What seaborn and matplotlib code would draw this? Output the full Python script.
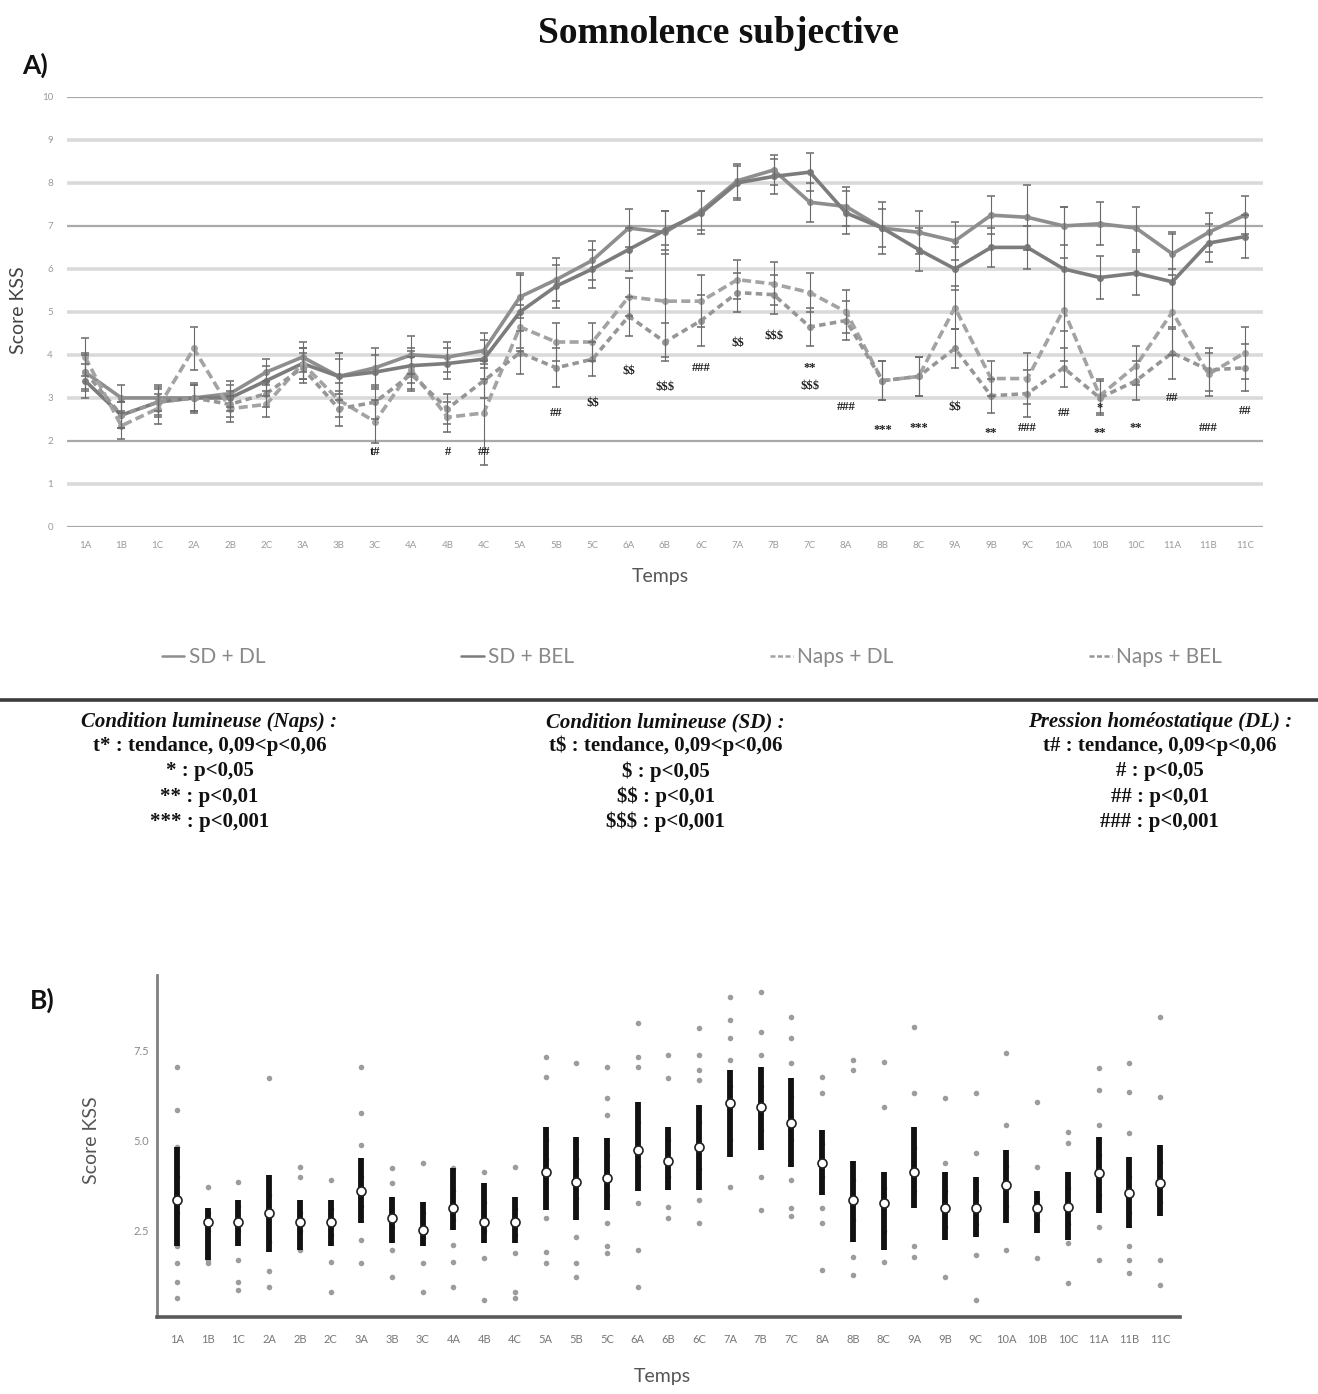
#!/usr/bin/env python3
"""
Somnolence subjective (KSS) - panneaux A et B
Sortie: out.png
"""
import numpy as np
import pandas as pd
import matplotlib
matplotlib.use("Agg")
import matplotlib.pyplot as plt
from matplotlib.lines import Line2D
import seaborn as sns

# --------------------------
# DONNEES
# --------------------------
times = ["1A", "1B", "1C", "2A", "2B", "2C", "3A", "3B", "3C", "4A", "4B", "4C",
         "5A", "5B", "5C", "6A", "6B", "6C", "7A", "7B", "7C", "8A", "8B", "8C",
         "9A", "9B", "9C", "10A", "10B", "10C", "11A", "11B", "11C"]

conditions = ["SD + DL", "SD + BEL", "Naps + DL", "Naps + BEL"]

# Panneau A : moyennes par condition
sd_dl = [3.6, 3.0, 3.0, 3.0, 3.1, 3.6, 3.95, 3.5, 3.7, 4.0, 3.95, 4.1,
         5.35, 5.75, 6.2, 6.95, 6.85, 7.35, 8.05, 8.3, 7.55, 7.45, 6.95, 6.85,
         6.65, 7.25, 7.2, 7.0, 7.05, 6.95, 6.35, 6.85, 7.25]
sd_bel = [3.4, 2.6, 2.9, 3.0, 3.0, 3.4, 3.8, 3.5, 3.6, 3.75, 3.8, 3.9,
          5.0, 5.6, 6.0, 6.45, 6.9, 7.3, 8.0, 8.15, 8.25, 7.3, 6.95, 6.45,
          6.0, 6.5, 6.5, 6.0, 5.8, 5.9, 5.7, 6.6, 6.75]
naps_dl = [3.95, 2.35, 2.75, 4.15, 2.75, 2.85, 3.8, 2.95, 2.45, 3.65, 2.55, 2.65,
           4.65, 4.3, 4.3, 5.35, 5.25, 5.25, 5.75, 5.65, 5.45, 5.0, 3.4, 3.5,
           5.1, 3.45, 3.45, 5.05, 3.05, 3.75, 5.0, 3.55, 4.05]
naps_bel = [3.6, 2.6, 2.9, 3.0, 2.85, 3.1, 3.7, 2.75, 2.9, 3.55, 2.75, 3.4,
            4.05, 3.7, 3.9, 4.9, 4.3, 4.8, 5.45, 5.4, 4.65, 4.8, 3.4, 3.5,
            4.15, 3.05, 3.1, 3.7, 3.0, 3.4, 4.05, 3.65, 3.7]

# erreurs standard
sd_dl_err = [0.45, 0.3, 0.3, 0.3, 0.3, 0.3, 0.35, 0.55, 0.45, 0.45, 0.35, 0.4,
             0.5, 0.5, 0.45, 0.45, 0.5, 0.45, 0.4, 0.35, 0.45, 0.45, 0.6, 0.5,
             0.45, 0.45, 0.75, 0.45, 0.5, 0.5, 0.5, 0.45, 0.45]
sd_bel_err = [0.4, 0.3, 0.35, 0.3, 0.3, 0.35, 0.35, 0.4, 0.4, 0.4, 0.35, 0.45,
              0.9, 0.5, 0.45, 0.5, 0.45, 0.5, 0.4, 0.4, 0.45, 0.5, 0.45, 0.5,
              0.5, 0.45, 0.5, 1.45, 0.5, 0.5, 1.1, 0.45, 0.5]
naps_dl_err = [0.45, 0.3, 0.35, 0.5, 0.3, 0.3, 0.35, 0.4, 0.5, 0.45, 0.35, 1.2,
               0.5, 0.45, 0.45, 0.45, 1.3, 0.6, 0.45, 0.5, 0.45, 0.5, 0.45, 0.45,
               0.5, 0.4, 0.6, 1.2, 0.4, 0.45, 1.0, 0.5, 0.6]
naps_bel_err = [0.4, 0.3, 0.3, 0.35, 0.3, 0.3, 0.35, 0.4, 0.4, 0.4, 0.35, 0.4,
                0.5, 0.45, 0.4, 0.45, 0.45, 0.6, 0.45, 0.45, 0.45, 0.45, 0.45, 0.45,
                0.45, 0.4, 0.55, 0.45, 0.4, 0.45, 0.6, 0.5, 0.55]

# annotations de significativité
sig_pos = [8, 10, 11, 13, 14, 15, 16, 17, 18, 19, 20, 20, 21, 22, 23, 24,
           25, 26, 27, 28, 28, 29, 30, 31, 32]
sig_kss = [1.74, 1.74, 1.74, 2.65, 2.88, 3.63, 3.26, 3.7, 4.28, 4.44, 3.7, 3.28,
           2.79, 2.26, 2.3, 2.79, 2.19, 2.3, 2.65, 2.77, 2.19, 2.3, 3.0, 2.3, 2.7]
sig_txt = ["t#", "#", "##", "##", "$$", "$$", "$$$", "###", "$$", "$$$", "**", "$$$",
           "###", "***", "***", "$$", "**", "###", "##", "*", "**", "**", "##", "###", "##"]

# Panneau B : médiane, intervalle (barre noire), valeurs individuelles
kss_median = [3.36, 2.76, 2.76, 2.99, 2.76, 2.76, 3.59, 2.85, 2.53, 3.13, 2.76, 2.76,
              4.14, 3.86, 3.95, 4.74, 4.42, 4.83, 6.03, 5.93, 5.47, 4.37, 3.36, 3.26,
              4.14, 3.13, 3.13, 3.77, 3.13, 3.17, 4.09, 3.54, 3.82]
kss_low = [2.07, 1.7, 2.07, 1.93, 1.98, 2.07, 2.71, 2.16, 2.07, 2.53, 2.16, 2.16,
           3.08, 2.8, 3.08, 3.59, 3.63, 3.63, 4.55, 4.74, 4.28, 3.49, 2.2, 1.98,
           3.13, 2.25, 2.34, 2.71, 2.44, 2.25, 2.99, 2.57, 2.9]
kss_high = [4.83, 3.13, 3.36, 4.05, 3.36, 3.36, 4.51, 3.45, 3.31, 4.23, 3.82, 3.45,
            5.38, 5.1, 5.06, 6.07, 5.38, 5.98, 6.95, 7.04, 6.72, 5.29, 4.42, 4.14,
            5.38, 4.14, 4.0, 4.74, 3.59, 4.14, 5.1, 4.55, 4.88]
kss_points = [
    [7.04, 5.84, 4.83, 2.07, 1.61, 1.1, 0.64, 3.0, 4.0],
    [3.72, 1.7, 1.6, 2.5, 3.0],
    [3.86, 1.7, 1.1, 0.87, 2.5, 3.2],
    [6.72, 1.38, 0.96, 2.2, 3.5],
    [4.28, 4.0, 1.98, 2.5, 3.0],
    [3.91, 1.65, 0.82, 2.4, 3.1],
    [7.04, 5.75, 4.88, 2.25, 1.61, 3.2, 4.0],
    [4.23, 3.82, 1.98, 1.24, 2.6],
    [4.37, 1.61, 0.82, 2.3, 3.0],
    [2.11, 1.65, 0.96, 2.8, 3.6, 4.23],
    [4.14, 1.74, 0.59, 2.5, 3.3],
    [4.28, 1.88, 0.82, 0.64, 2.4, 3.1],
    [7.32, 6.76, 2.85, 1.93, 1.61, 4.5, 5.0],
    [7.13, 2.34, 1.61, 1.24, 3.4, 4.5],
    [7.04, 6.16, 5.7, 2.71, 2.07, 1.88, 3.5, 4.6],
    [8.24, 7.32, 7.04, 3.26, 1.98, 0.96, 4.3, 5.5],
    [7.36, 6.72, 3.17, 2.85, 4.0, 5.0],
    [8.1, 7.36, 6.95, 6.67, 3.36, 2.71, 4.2, 5.5],
    [8.97, 8.33, 7.82, 7.22, 3.72, 5.0, 6.5],
    [9.11, 8.0, 7.36, 4.0, 3.08, 5.3, 6.5],
    [8.42, 7.82, 7.13, 3.91, 3.13, 2.9, 5.0, 6.2],
    [6.76, 6.3, 3.13, 2.71, 1.42, 4.0, 4.9],
    [7.22, 6.95, 1.79, 1.28, 2.8, 3.9],
    [7.18, 5.93, 1.65, 2.5, 3.7],
    [8.14, 6.3, 2.07, 1.79, 3.6, 4.8],
    [6.16, 4.37, 1.24, 2.6, 3.6],
    [6.3, 4.65, 1.84, 0.59, 2.7, 3.6],
    [7.41, 5.43, 1.98, 3.2, 4.3],
    [6.07, 4.28, 1.74, 2.8, 3.4],
    [5.24, 4.92, 2.16, 1.05, 2.7, 3.7],
    [6.99, 6.39, 5.43, 2.62, 1.7, 3.5, 4.6],
    [7.13, 6.35, 5.2, 2.07, 1.7, 1.33, 3.0, 4.0],
    [8.42, 6.21, 1.7, 1.01, 3.3, 4.4],
]

# légendes statistiques
stat_titles = ["Condition lumineuse (Naps) :", "Condition lumineuse (SD) :",
               "Pression homéostatique (DL) :"]
stat_naps = ["t* : tendance, 0,09<p<0,06", "* : p<0,05", "** : p<0,01", "*** : p<0,001"]
stat_sd = ["t$ : tendance, 0,09<p<0,06", "$ : p<0,05", "$$ : p<0,01", "$$$ : p<0,001"]
stat_dl = ["t# : tendance, 0,09<p<0,06", "# : p<0,05", "## : p<0,01", "### : p<0,001"]

# --------------------------
# STYLE
# --------------------------
PALETTE = {"SD + DL": "#8e8e8e", "SD + BEL": "#7c7c7c",
           "Naps + DL": "#a3a3a3", "Naps + BEL": "#969696"}
DASHES = {"SD + DL": "", "SD + BEL": "", "Naps + DL": (2.5, 1.2), "Naps + BEL": (1.8, 1.2)}
SERIF = ["Liberation Serif", "DejaVu Serif"]


def build_frame_a():
    """Format long pour le panneau A"""
    pos = list(range(len(times)))
    series = {"SD + DL": sd_dl, "SD + BEL": sd_bel, "Naps + DL": naps_dl, "Naps + BEL": naps_bel}
    frames = [pd.DataFrame({"pos": pos, "kss": vals, "cond": name}) for name, vals in series.items()]
    return pd.concat(frames, ignore_index=True)


def build_frame_b():
    """Format long pour les valeurs individuelles du panneau B"""
    rows = [(t, v) for t, vals in zip(times, kss_points) for v in vals]
    return pd.DataFrame(rows, columns=["temps", "kss"])


def draw_panel_a(ax):
    df = build_frame_a()
    # grille horizontale
    for lvl in range(0, 11):
        dark = lvl in (0, 2, 7, 10)
        ax.axhline(lvl, color="#a9a9a9" if dark else "#dadada",
                   lw=1.6 if dark else 2.6, zorder=0)

    sns.lineplot(data=df, x="pos", y="kss", hue="cond", style="cond",
                 palette=PALETTE, dashes=DASHES,
                 markers={c: "o" for c in conditions}, markersize=5,
                 markeredgewidth=0, linewidth=2.6, legend=False, ax=ax, zorder=3)

    errs = {"SD + DL": (sd_dl, sd_dl_err), "SD + BEL": (sd_bel, sd_bel_err),
            "Naps + DL": (naps_dl, naps_dl_err), "Naps + BEL": (naps_bel, naps_bel_err)}
    for name, (vals, err) in errs.items():
        ax.errorbar(range(len(times)), vals, yerr=err, fmt="none", ecolor="#6a6a6a",
                    elinewidth=0.8, capsize=3, capthick=1.1, zorder=4)

    for p, v, s in zip(sig_pos, sig_kss, sig_txt):
        ax.text(p, v, s, ha="center", va="center", fontsize=9, fontweight="bold",
                family=SERIF, color="#1e1e1e", zorder=5)

    ax.set_xlim(-0.5, len(times) - 0.5)
    ax.set_ylim(0, 10)
    ax.set_xticks(range(len(times)))
    ax.set_xticklabels(times, fontsize=7, color="#9a9a9a")
    ax.set_yticks(range(0, 11))
    ax.set_yticklabels([str(v) for v in range(0, 11)], fontsize=7, color="#9a9a9a")
    ax.tick_params(axis="x", length=0, pad=10)
    ax.tick_params(axis="y", length=0, pad=10)
    for sp in ax.spines.values():
        sp.set_visible(False)
    ax.set_xlabel("Temps", fontsize=14, color="#555555")
    ax.xaxis.set_label_coords(0.496, -0.095)
    ax.set_ylabel("Score KSS", fontsize=14, color="#444444")
    ax.yaxis.set_label_coords(-0.033, 0.505)


def draw_panel_b(ax):
    df = build_frame_b()
    sns.stripplot(data=df, x="temps", y="kss", order=times, jitter=False,
                  color="#9c9c9c", size=4, linewidth=0, ax=ax, zorder=2)
    pos = np.arange(len(times))
    ax.vlines(pos, kss_low, kss_high, color="#111111", lw=4.2, zorder=3)
    ax.scatter(pos, kss_median, s=42, facecolor="white", edgecolor="#222222",
               linewidth=1.2, zorder=4)

    ax.set_xlim(-0.65, len(times) - 0.35)
    ax.set_ylim(0.12, 9.57)
    ax.set_yticks([2.5, 5.0, 7.5])
    ax.set_yticklabels(["2.5", "5.0", "7.5"], fontsize=8, color="#8a8a8a")
    ax.set_xticks(pos)
    ax.set_xticklabels(times, fontsize=8, color="#777777")
    ax.tick_params(axis="x", length=3, width=1, color="#777777", pad=9)
    ax.tick_params(axis="y", length=3, width=1, color="#777777", pad=3)
    sns.despine(ax=ax)
    ax.spines["left"].set_color("#808080")
    ax.spines["left"].set_linewidth(2)
    ax.spines["bottom"].set_color("#5a5a5a")
    ax.spines["bottom"].set_linewidth(2.6)
    ax.set_xlabel("Temps", fontsize=14, color="#555555")
    ax.xaxis.set_label_coords(0.494, -0.150)
    ax.set_ylabel("Score KSS", fontsize=14, color="#555555")
    ax.yaxis.set_label_coords(-0.056, 0.518)


def draw_notes(fig):
    """Légende des courbes et légende statistique"""
    handles = [Line2D([], [], color=PALETTE[c], lw=1.8,
                      linestyle="-" if c.startswith("SD") else (0, (2, 1)))
               for c in conditions]
    fig.legend(handles, conditions, loc="center", bbox_to_anchor=(0.525, 0.5287),
               ncol=4, frameon=False, fontsize=15, handlelength=1.1,
               handletextpad=0.2, columnspacing=9.4, labelcolor="#888888")

    fig.add_artist(Line2D([0, 1], [0.4978, 0.4978], transform=fig.transFigure,
                          color="#3c3c3c", lw=2.6))

    cols = [0.159, 0.505, 0.880]
    blocks = [stat_naps, stat_sd, stat_dl]
    for cx, head, lines in zip(cols, stat_titles, blocks):
        fig.text(cx, 0.4820, head, ha="center", va="center", fontsize=15,
                 fontweight="bold", fontstyle="italic", family=SERIF, color="#111111")
        for j, line in enumerate(lines):
            fig.text(cx, 0.4649 - j * 0.0182, line, ha="center", va="center",
                     fontsize=15, fontweight="bold", family=SERIF, color="#111111")


# --------------------------
# ANA İŞLEM
# --------------------------
if __name__ == "__main__":
    sns.set_theme(style="white")
    plt.rcParams["font.family"] = ["Lato", "DejaVu Sans"]
    plt.rcParams["text.parse_math"] = False  # les "$" sont du texte

    fig = plt.figure(figsize=(13.18, 13.94), dpi=100)
    ax_a = fig.add_axes([0.0508, 0.6220, 0.9074, 0.3085])
    ax_b = fig.add_axes([0.1191, 0.0552, 0.7762, 0.2453])

    draw_panel_a(ax_a)
    draw_panel_b(ax_b)
    draw_notes(fig)

    fig.text(0.545, 0.9763, "Somnolence subjective", ha="center", va="center",
             fontsize=27, fontweight="bold", family=SERIF, color="#111111")
    fig.text(0.017, 0.953, "A)", ha="left", va="center", fontsize=19,
             fontweight="bold", color="#111111")
    fig.text(0.023, 0.2826, "B)", ha="left", va="center", fontsize=19,
             fontweight="bold", color="#111111")

    fig.savefig("out.png", dpi=100)
    plt.close(fig)
